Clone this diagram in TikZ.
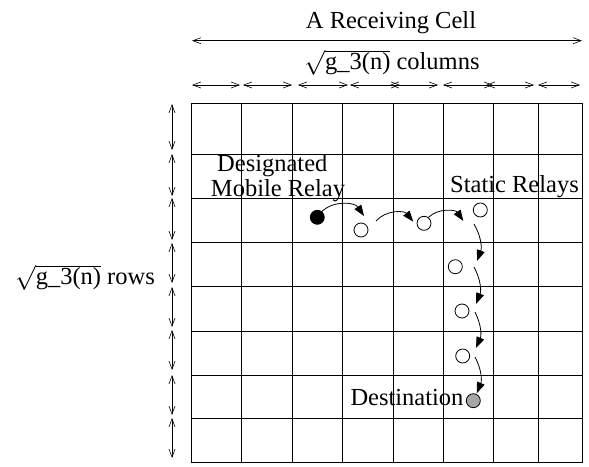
\documentclass[tikz,border=0pt]{standalone}
\usepackage{fontspec}
\setmainfont{Liberation Serif}
\usetikzlibrary{arrows.meta}
\begin{document}
\begin{tikzpicture}[x=1pt,y=1pt,
  gridline/.style={line width=0.8pt},
  dim/.style={line width=0.6pt,{Straight Barb[length=8pt,width=6pt]}-{Straight Barb[length=8pt,width=6pt]}},
  lbl/.style={font=\fontsize{24.5}{24.5}\selectfont, inner sep=0pt, anchor=base},
  relay/.style={circle,draw,line width=0.8pt,minimum size=14pt,inner sep=0pt},
  hop/.style={line width=0.8pt,-{Triangle[length=11pt,width=8pt]}}]
\useasboundingbox (0,0) rectangle (589,466);
% grid (y = 466 - image y)
\foreach \x in {191,241.5,292,342.5,393,443,493,538,582}
  \draw[gridline] (\x,3.5) -- (\x,362.5);
\foreach \y in {362.5,312,268,224,179.5,135,91,47.5,3.5}
  \draw[gridline] (191,\y) -- (582,\y);
% top dimension arrows
\coordinate (bl) at (192,425.3);
\coordinate (br) at (582,425.3);
\draw[dim] (bl) -- (br);
\foreach \a/\b in {192/240,243/292,298/348,350/400,390/438,443/493,486/534,538/580}
  \draw[dim] (\a,381) -- (\b,381);
% left dimension arrows
\foreach \a/\b in {104/150,154/196,198/240,243/283,287/327,330/370,375/415,418/458}
  \draw[dim] (172,466-\a) -- (172,466-\b);
% labels
\node[lbl] (cell) at (391,437.7) {A Receiving Cell};
\node[lbl] (cols) at (392,396) {$\sqrt{\mbox{g\_3(n)}}$ columns};
\node[lbl] (rows) at (85,181) {$\sqrt{\mbox{g\_3(n)}}$ rows};
\node[lbl] (desig) at (272.3,294) {Designated};
\node[lbl] (mob) at (278,269.3) {Mobile Relay};
\node[lbl] (stat) at (514.5,273.3) {Static Relays};
\node[lbl] (dest) at (407,60) {Destination};
% relays
\node[relay,fill=black] (m) at (317.3,248.7) {};
\node[relay] (s1) at (361,236) {};
\node[relay] (s2) at (424,242.7) {};
\node[relay] (s3) at (480.3,256) {};
\node[relay] (s4) at (455.3,199.3) {};
\node[relay] (s5) at (462,155) {};
\node[relay] (s6) at (462.7,110) {};
\node[relay,fill=gray!70] (d) at (473.3,65.3) {};
% hops
\coordinate (h1) at (364,250);
\coordinate (h2a) at (376,245);
\coordinate (h2) at (413.3,244.3);
\coordinate (h3) at (463.3,245);
\coordinate (h4a) at (474,242);
\coordinate (h4) at (477,205);
\coordinate (h5a) at (474,199);
\coordinate (h5) at (476,162);
\coordinate (h6a) at (475,154);
\coordinate (h6) at (476,118);
\coordinate (h7a) at (475,109);
\coordinate (h7) at (476.7,72.7);
\draw[hop] (m) to[bend left=50] (h1);
\draw[hop] (h2a) to[bend left=50] (h2);
\draw[hop] (s2) to[bend left=50] (h3);
\draw[hop] (h4a) to[bend left=25] (h4);
\draw[hop] (h5a) to[bend left=25] (h5);
\draw[hop] (h6a) to[bend left=25] (h6);
\draw[hop] (h7a) to[bend left=25] (h7);
\end{tikzpicture}
\end{document}
